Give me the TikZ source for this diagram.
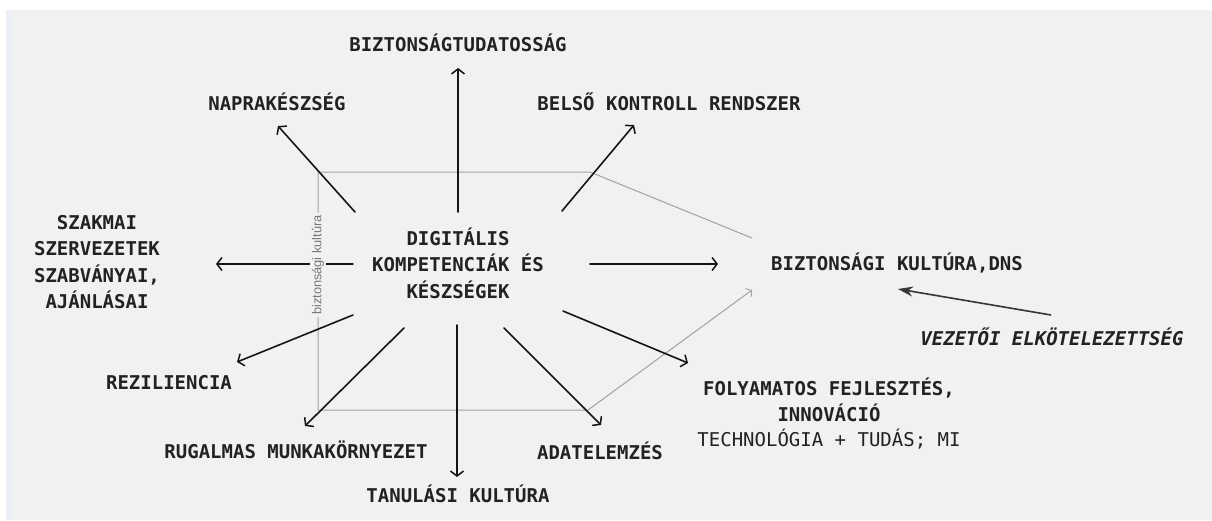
\documentclass[tikz,border=0pt]{standalone}
\usepackage{fontspec}
\usetikzlibrary{arrows.meta}
\newfontfamily\monof{DejaVu Sans Mono}
\newfontfamily\labf{Liberation Sans}
\definecolor{bg}{HTML}{F1F1F1}
\definecolor{strip}{HTML}{ECF0F6}
\definecolor{ink}{HTML}{151515}
\definecolor{txt}{HTML}{222222}
\definecolor{gline}{HTML}{A2A2A2}
\definecolor{glab}{HTML}{787878}
\definecolor{vez}{HTML}{363636}
\begin{document}
\begin{tikzpicture}[x=1pt,y=-1pt,
  lbl/.style={font=\monof\bfseries\fontsize{19}{26.5}\selectfont, text=txt, align=center, inner sep=0pt},
  sublbl/.style={font=\monof\fontsize{19}{26.5}\selectfont, text=txt, align=center, inner sep=0pt},
  arr/.style={draw=ink, line width=1.6pt, line cap=round,
    -{Straight Barb[length=5pt,width=13pt,line width=1.5pt]}},
  garr/.style={draw=gline, line width=1pt, line join=round,
    -{Straight Barb[length=4pt,width=10pt,line width=0.9pt]}},
  varr/.style={draw=vez, line width=1.6pt, -{Stealth[length=15pt,width=10pt]}},
  vlab/.style={font=\labf\fontsize{12.8}{14}\selectfont, text=glab, fill=bg, inner sep=2pt}]
\useasboundingbox (0,0) rectangle (1212,520);
\fill[white] (0,0) rectangle (1212,520);
\fill[bg] (6,10) rectangle (1212,520);
\fill[strip] (6,10) rectangle (13,520);

% text nodes
\node[lbl] (dig) at (458,263) {DIGITÁLIS\\KOMPETENCIÁK ÉS\\KÉSZSÉGEK};
\node[lbl] (tud) at (458,43) {BIZTONSÁGTUDATOSSÁG};
\node[lbl] (nap) at (277,102) {NAPRAKÉSZSÉG};
\node[lbl] (bel) at (669,102) {BELSŐ KONTROLL RENDSZER};
\node[lbl] (szak) at (97,262) {SZAKMAI\\SZERVEZETEK\\SZABVÁNYAI,\\AJÁNLÁSAI};
\node[lbl] (rez) at (169,383) {REZILIENCIA};
\node[lbl] (rug) at (296,450) {RUGALMAS MUNKAKÖRNYEZET};
\node[lbl] (tan) at (458,494) {TANULÁSI KULTÚRA};
\node[lbl] (ada) at (600,451) {ADATELEMZÉS};
\node[lbl] (fol) at (829,400) {FOLYAMATOS FEJLESZTÉS,\\INNOVÁCIÓ};
\node[sublbl] (tech) at (829,439) {TECHNOLÓGIA + TUDÁS; MI};
\node[lbl] (bdns) at (897,263) {BIZTONSÁGI KULTÚRA,DNS};
\node[lbl, font=\monof\bfseries\itshape\fontsize{19}{26.5}\selectfont] (vezn) at (1052,337) {VEZETŐI ELKÖTELEZETTSÉG};

% connector end points
\coordinate (a1s) at (458,212); \coordinate (a1e) at (458,68);
\coordinate (a2s) at (355,212); \coordinate (a2e) at (278,126);
\coordinate (a3s) at (562,211); \coordinate (a3e) at (634,125);
\coordinate (a4s) at (353,264); \coordinate (a4e) at (216,264);
\coordinate (a5s) at (590,264); \coordinate (a5e) at (718,264);
\coordinate (a6s) at (353,315); \coordinate (a6e) at (237,362);
\coordinate (a7s) at (404,328); \coordinate (a7e) at (305,426);
\coordinate (a8s) at (457,325); \coordinate (a8e) at (457,477);
\coordinate (a9s) at (504,328); \coordinate (a9e) at (601,425);
\coordinate (a10s) at (563,311); \coordinate (a10e) at (688,363);
\coordinate (vs) at (1051,315); \coordinate (ve) at (898,289);

% grey bracket
\coordinate (g1) at (752,238); \coordinate (g2) at (590,172);
\coordinate (g3) at (318,172); \coordinate (g4) at (318,410);
\coordinate (g5) at (588,410); \coordinate (g6) at (752,290);
\draw[garr] (g1) -- (g2) -- (g3) -- (g4) -- (g5) -- (g6);

% black arrows
\draw[arr] (a1s) -- (a1e);
\draw[arr] (a2s) -- (a2e);
\draw[arr] (a3s) -- (a3e);
\draw[arr] (a4s) -- (a4e);
\draw[arr] (a5s) -- (a5e);
\draw[arr] (a6s) -- (a6e);
\draw[arr] (a7s) -- (a7e);
\draw[arr] (a8s) -- (a8e);
\draw[arr] (a9s) -- (a9e);
\draw[arr] (a10s) -- (a10e);
\draw[varr] (vs) -- (ve);

% vertical label on the grey line
\node[vlab, rotate=90] (bk) at (318,265) {biztonsági\ kultúra};
\end{tikzpicture}
\end{document}
